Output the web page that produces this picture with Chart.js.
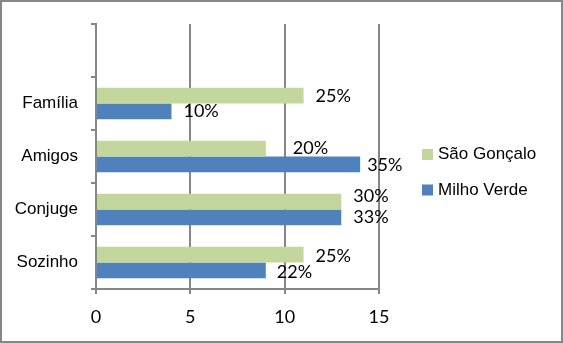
<!DOCTYPE html>
<html>
<head>
<meta charset="utf-8">
<script src="https://cdn.jsdelivr.net/npm/chart.js@4/dist/chart.umd.min.js"></script>
<style>
  html, body { margin: 0; padding: 0; background: #fff; }
  canvas { display: block; }
</style>
</head>
<body>
<canvas id="grafico" width="563" height="343"></canvas>
<script>
// categorias (a primeira fica vazia, como no original)
const categorias = ['', 'Família', 'Amigos', 'Conjuge', 'Sozinho'];
const saoGoncalo = [null, 11, 9, 13, 11];
const milhoVerde = [null, 4, 14, 13, 9];
const rotulosSaoGoncalo = ['', '25%', '20%', '30%', '25%'];
const rotulosMilhoVerde = ['', '10%', '35%', '33%', '22%'];
const eixoX = { min: 0, max: 15, passo: 5 };

// pequenos ajustes dos rótulos [dx, dy] a partir do fim da barra
const ajustesRotulos = [
    [[0, 0], [12, 1], [27, 0], [12, -5], [12, 1.5]],
    [[0, 0], [12, 0], [7, 1], [12, 0], [11, 1.5]]
];

const corEixo = '#868686';

// Plugin para fundo branco e moldura
const moldura = {
    id: 'moldura',
    beforeDraw(chart) {
        const ctx = chart.ctx;
        ctx.save();
        ctx.fillStyle = '#fff';
        ctx.fillRect(0, 0, chart.width, chart.height);
        ctx.restore();
    },
    afterDraw(chart) {
        const ctx = chart.ctx;
        ctx.save();
        ctx.strokeStyle = '#878787';
        ctx.lineWidth = 2;
        ctx.strokeRect(1, 1, chart.width - 2, chart.height - 2);
        ctx.restore();
    }
};

// Plugin para desenhar os rótulos de porcentagem
const rotulos = {
    id: 'rotulos',
    afterDatasetsDraw(chart) {
        const ctx = chart.ctx;
        const textos = [rotulosSaoGoncalo, rotulosMilhoVerde];
        ctx.save();
        ctx.font = '18px Lato';
        ctx.fillStyle = '#000';
        ctx.textAlign = 'left';
        ctx.textBaseline = 'middle';
        chart.data.datasets.forEach((ds, i) => {
            const meta = chart.getDatasetMeta(i);
            meta.data.forEach((barra, j) => {
                if (ds.data[j] == null) return;
                const [dx, dy] = ajustesRotulos[i][j];
                ctx.fillText(textos[i][j], barra.x + dx, barra.y + dy);
            });
        });
        ctx.restore();
    }
};

// Legenda desenhada à direita da área do gráfico
const legenda = {
    id: 'legenda',
    afterDraw(chart) {
        const ctx = chart.ctx;
        const area = chart.chartArea;
        const x = area.right + 43;
        let y = (area.top + area.bottom) / 2 - 2.5;
        ctx.save();
        ctx.font = '17px "Liberation Sans"';
        ctx.textBaseline = 'middle';
        ctx.textAlign = 'left';
        chart.data.datasets.forEach(ds => {
            ctx.fillStyle = ds.backgroundColor;
            ctx.fillRect(x, y - 5, 11, 11);
            ctx.fillStyle = '#000';
            ctx.fillText(ds.label, x + 16, y + 0.5);
            y += 35.5;
        });
        ctx.restore();
    }
};

const ctx = document.getElementById('grafico').getContext('2d');

new Chart(ctx, {
    type: 'bar',
    data: {
        labels: categorias,
        datasets: [
            {
                label: 'São Gonçalo',
                data: saoGoncalo,
                backgroundColor: '#C3D69B',
                categoryPercentage: 0.59,
                barPercentage: 1.0
            },
            {
                label: 'Milho Verde',
                data: milhoVerde,
                backgroundColor: '#4F81BD',
                categoryPercentage: 0.59,
                barPercentage: 1.0
            }
        ]
    },
    options: {
        indexAxis: 'y',
        responsive: false,
        animation: false,
        layout: {
            padding: { top: 24, right: 184, bottom: 0, left: 0 }
        },
        scales: {
            x: {
                min: eixoX.min,
                max: eixoX.max,
                ticks: {
                    stepSize: eixoX.passo,
                    color: '#000',
                    padding: 12,
                    font: { family: 'Lato', size: 18 }
                },
                grid: {
                    color: corEixo,
                    lineWidth: 2,
                    tickLength: 5
                },
                border: { display: true, color: corEixo, width: 2 },
                afterFit(scale) { scale.height = 54; }
            },
            y: {
                ticks: {
                    color: '#000',
                    padding: 13,
                    font: { family: 'Liberation Sans', size: 17 }
                },
                grid: {
                    drawOnChartArea: false,
                    color: corEixo,
                    lineWidth: 2,
                    tickLength: 5
                },
                border: { display: true, color: corEixo, width: 2 },
                afterFit(scale) { scale.width = 96; }
            }
        },
        plugins: {
            legend: { display: false },
            tooltip: { enabled: false }
        }
    },
    plugins: [moldura, rotulos, legenda]
});
</script>
</body>
</html>
